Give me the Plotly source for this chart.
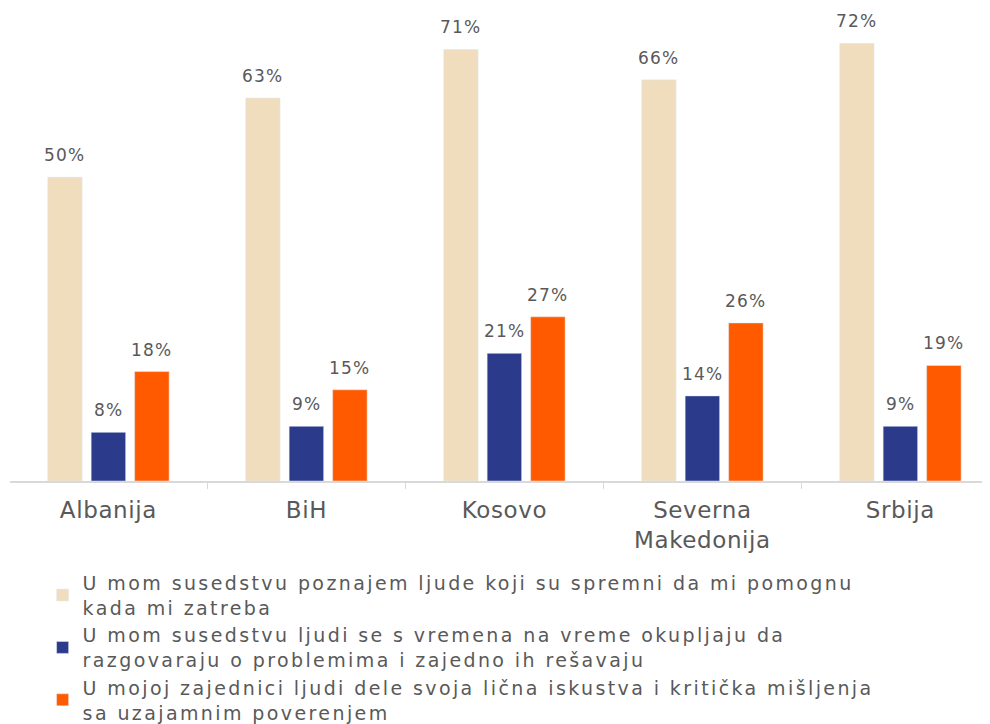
import plotly.graph_objects as go

categories = ["Albanija", "BiH", "Kosovo", "Severna Makedonija", "Srbija"]
tick_labels = ["Albanija", "BiH", "Kosovo", "Severna<br>Makedonija", "Srbija"]
series_names = [
    ["U mom susedstvu poznajem ljude koji su spremni da mi pomognu", "kada mi zatreba"],
    ["U mom susedstvu ljudi se s vremena na vreme okupljaju da", "razgovaraju o problemima i zajedno ih rešavaju"],
    ["U mojoj zajednici ljudi dele svoja lična iskustva i kritička mišljenja", "sa uzajamnim poverenjem"],
]
values_help = [50, 63, 71, 66, 72]
values_meet = [8, 9, 21, 14, 9]
values_trust = [18, 15, 27, 26, 19]
colors = ["#EFDDBE", "#2B3A8A", "#FF5A00"]

FONT = "DejaVu Sans"
GRAY = "#595959"


def spaced(s, px):
    # wrap each line in a letter-spaced span
    return "<br>".join(f"<span style='letter-spacing:{px}px'>{p}</span>" for p in s.split("<br>"))


fig = go.Figure()
for i, (name, vals, col) in enumerate(zip(series_names, [values_help, values_meet, values_trust], colors)):
    fig.add_trace(go.Bar(x=categories, y=vals, name=spaced("<br>".join(name), 2.4), marker_color=col))
    # value labels above each bar
    for cat, v in zip(categories, vals):
        fig.add_annotation(x=cat, y=v, text=spaced(f"{v}%", 1.2), showarrow=False,
                           xshift=(i - 1) * 43.5, yshift=10, yanchor="bottom",
                           font=dict(family=FONT, size=17, color=GRAY))

fig.update_layout(
    width=990, height=724,
    margin=dict(l=2, r=0, t=0, b=246),
    paper_bgcolor="white", plot_bgcolor="white",
    font=dict(family=FONT, color=GRAY, size=19),
    barmode="group", bargap=0.341, bargroupgap=0.207,
    showlegend=True,
    legend=dict(orientation="v", x=0.033, xanchor="left", y=-0.175, yanchor="top",
                font=dict(size=19, color=GRAY), tracegroupgap=0),
)
fig.update_xaxes(showline=True, linecolor="#D9D9D9", linewidth=1.5,
                 range=[-0.497, 4.493],
                 tickvals=categories, ticktext=[spaced(t, 0.6) for t in tick_labels],
                 ticks="outside", tickson="boundaries", ticklen=6, tickcolor="#D9D9D9",
                 ticklabelstandoff=8,
                 tickfont=dict(size=23, color=GRAY))
fig.update_yaxes(visible=False, range=[0, 77.8])

fig.write_html("out.html")
